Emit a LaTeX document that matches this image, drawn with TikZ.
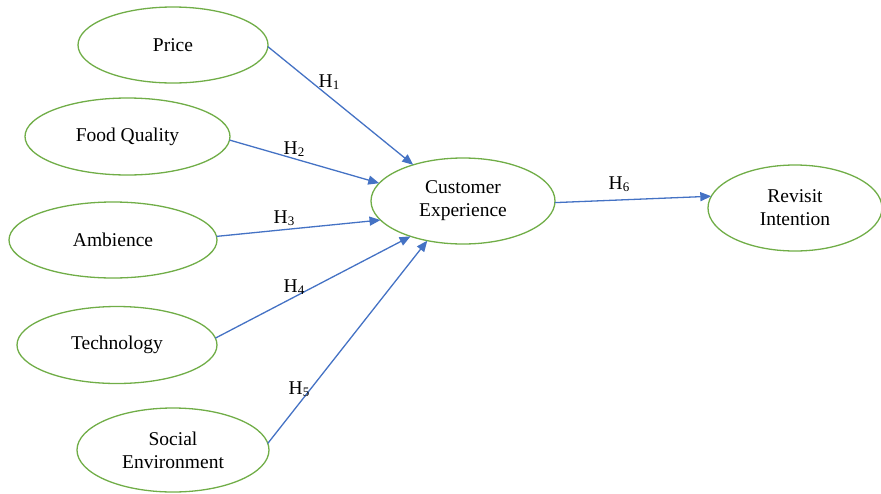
\documentclass[tikz,border=0pt]{standalone}
\usepackage{fontspec}
\setmainfont{Liberation Serif}
\usetikzlibrary{shapes.geometric,arrows.meta}
\definecolor{ovalgreen}{RGB}{112,173,71}
\definecolor{linkblue}{RGB}{68,114,196}
\newcommand{\hyp}[1]{H\raisebox{-1.5pt}{\fontsize{13}{13}\selectfont #1}}
\tikzset{
  construct/.style={ellipse, draw=ovalgreen, line width=1.3pt, inner sep=0pt, outer sep=0pt,
    align=center, font=\fontsize{19.5}{23}\selectfont},
  link/.style={draw=linkblue, line width=1.3pt, -{Triangle[length=11pt,width=9pt]}},
  hlabel/.style={inner sep=0pt, font=\fontsize{19.5}{23}\selectfont}
}
\begin{document}
\begin{tikzpicture}[x=1pt,y=-1pt]
\useasboundingbox (0,0) rectangle (881,493);
% predictor constructs
\node[construct, minimum width=190pt, minimum height=76pt] (price) at (173,45) {Price};
\node[construct, minimum width=205pt, minimum height=77pt] (food) at (127.5,136.5) {Food Quality};
\node[construct, minimum width=208pt, minimum height=76pt] (amb) at (113,240) {Ambience};
\node[construct, minimum width=200pt, minimum height=77pt] (tech) at (117,345) {Technology};
\node[construct, minimum width=192pt, minimum height=84pt] (soc) at (173,450) {Social\\Environment};
% mediator and outcome
\node[construct, minimum width=184pt, minimum height=86pt] (ce) at (463,201) {Customer\\Experience};
\node[construct, minimum width=174pt, minimum height=86pt] (ri) at (795,208) {Revisit\\Intention};
% hypothesised paths
\draw[link] (price.-1) -- (ce.144.7);
\draw[link] (food.-2.5) -- (ce.168.3);
\draw[link] (amb.2.2) -- (ce.193.4);
\draw[link] (tech.4) -- (ce.214.4);
\draw[link] (soc.4) -- (ce.228);
\draw[link] (ce.-1) -- (ri.172.7);
% path labels
\node[hlabel] (h1) at (329,82) {\hyp{1}};
\node[hlabel] (h2) at (294,149) {\hyp{2}};
\node[hlabel] (h3) at (284,218) {\hyp{3}};
\node[hlabel] (h4) at (294,287) {\hyp{4}};
\node[hlabel] (h5) at (299,389) {\hyp{5}};
\node[hlabel] (h6) at (619,184) {\hyp{6}};
\end{tikzpicture}
\end{document}
